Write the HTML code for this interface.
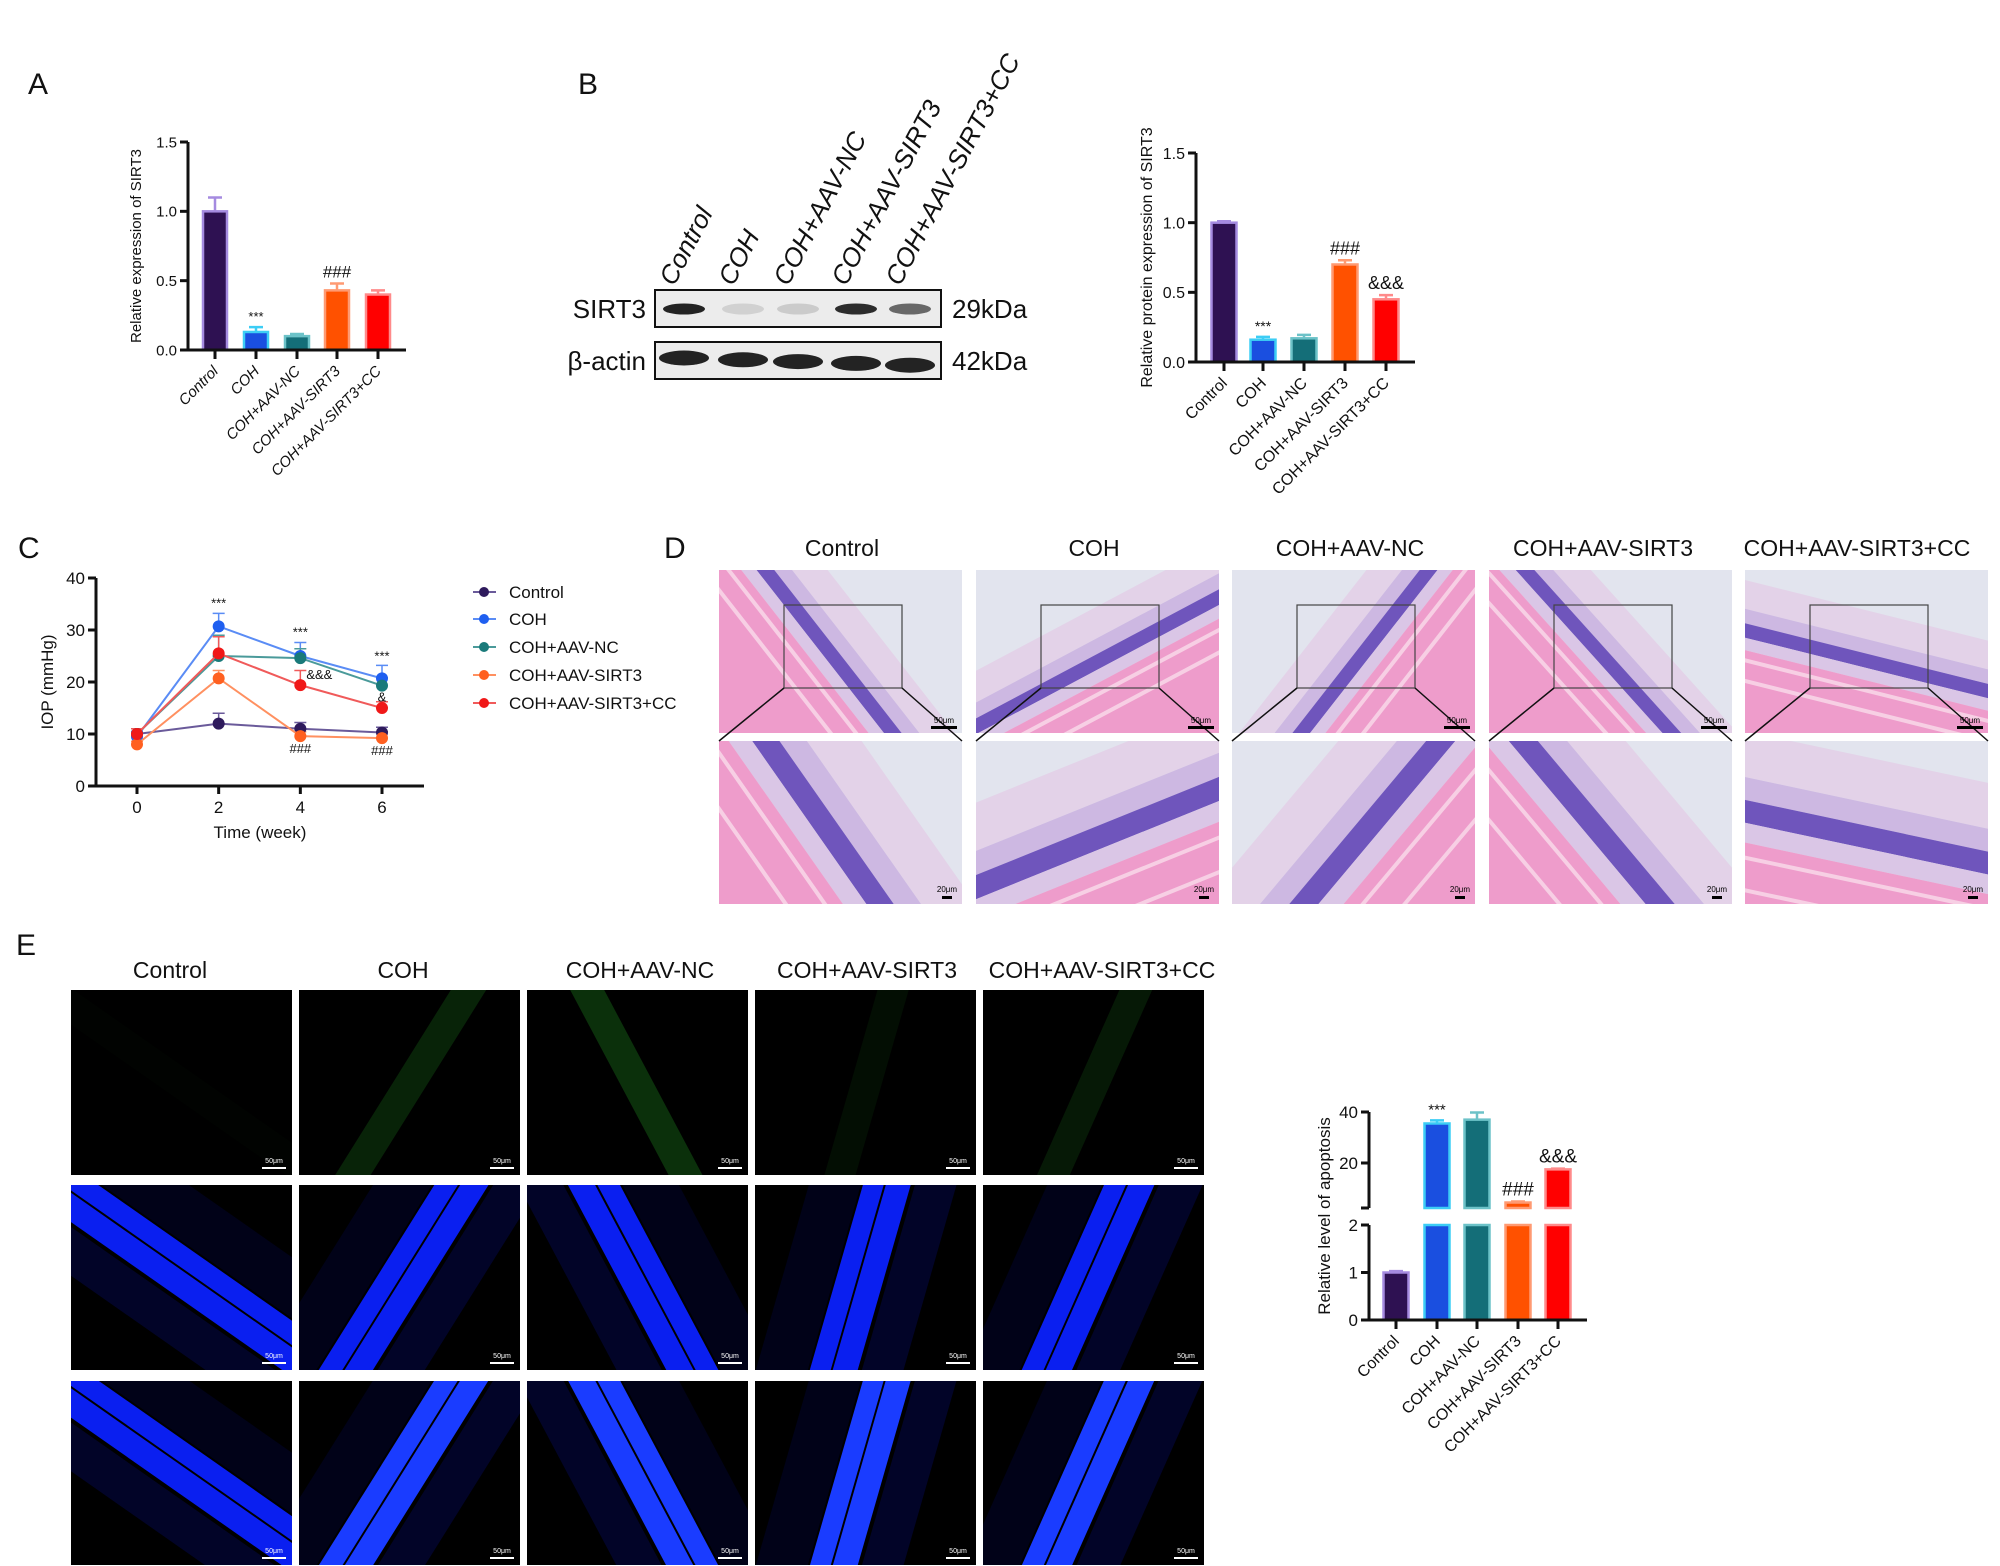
<!DOCTYPE html>
<html><head><meta charset="utf-8"><style>
html,body{margin:0;padding:0;background:#fff;overflow:hidden;width:2000px;height:1566px;}
svg{display:block;font-family:"Liberation Sans",Arial,sans-serif;}
</style></head><body>
<svg id="fig" width="2000" height="1566" viewBox="0 0 2000 1566" xmlns="http://www.w3.org/2000/svg">
<g id="labels" font-size="30" fill="#111">
 <text x="28" y="94">A</text>
 <text x="578" y="94">B</text>
 <text x="18" y="558">C</text>
 <text x="664" y="558">D</text>
 <text x="16" y="955">E</text>
</g>
<g id="blot"></g>
<g id="chartA"></g>
<g id="chartB"></g>
<g id="chartC"></g>
<g id="panelD"></g>
<g id="panelE"></g>
<g id="chartE"></g>
</svg>
<script>
const groups = ["Control","COH","COH+AAV-NC","COH+AAV-SIRT3","COH+AAV-SIRT3+CC"];
const aValues = [1.0, 0.13, 0.10, 0.43, 0.40];
const aErrors = [0.10, 0.035, 0.015, 0.05, 0.03];
const aMarks = ["", "***", "", "###", ""];
const aTicks = [0, 0.5, 1.0, 1.5];
const aTickLabels = ["0.0","0.5","1.0","1.5"];
const bValues = [1.0, 0.16, 0.17, 0.70, 0.45];
const bErrors = [0.01, 0.02, 0.025, 0.03, 0.03];
const bMarks = ["", "***", "", "###", "&&&"];
const weeks = [0, 2, 4, 6];
const cTicks = [0, 10, 20, 30, 40];
const ivControl = [10.0, 12.0, 11.0, 10.3];
const ivCOH = [9.5, 30.7, 25.0, 20.7];
const ivNC = [10.0, 25.0, 24.6, 19.3];
const ivSIRT3 = [8.0, 20.7, 9.6, 9.2];
const ivCC = [10.0, 25.5, 19.4, 15.0];
const ivErrControl = [1.0, 2.0, 1.2, 1.0];
const ivErrCOH = [1.0, 2.5, 2.6, 2.5];
const ivErrNC = [1.0, 4.0, 1.8, 1.5];
const ivErrSIRT3 = [0.6, 1.5, 0.8, 1.2];
const ivErrCC = [1.0, 3.2, 2.8, 1.2];
const eValues = [1.0, 35.5, 37.0, 4.5, 17.5];
const eErrors = [0.03, 1.2, 2.8, 0.4, 0.3];
const eMarks = ["", "***", "", "###", "&&&"];
const eTicksLow = [0, 1, 2];
const eTicksHigh = [20, 40];

const NS="http://www.w3.org/2000/svg";
function mk(parent, tag, attrs, txt){const e=document.createElementNS(NS,tag);for(const k in attrs)e.setAttribute(k,attrs[k]);if(txt!==undefined)e.textContent=txt;parent.appendChild(e);return e;}
const fills=["#2e1152","#1a4fe0","#146e78","#ff5100","#ff0000"];
const strokes=["#a58be0","#3ccdf5","#6cc2c8","#ff9a72","#ff8a8a"];

// clip polygon to axis-aligned rect (Sutherland-Hodgman)
function clipPoly(pts,x0,y0,x1,y1){
  const edges=[[p=>p[0]>=x0,(a,b)=>{const t=(x0-a[0])/(b[0]-a[0]);return [x0,a[1]+t*(b[1]-a[1])];}],
    [p=>p[0]<=x1,(a,b)=>{const t=(x1-a[0])/(b[0]-a[0]);return [x1,a[1]+t*(b[1]-a[1])];}],
    [p=>p[1]>=y0,(a,b)=>{const t=(y0-a[1])/(b[1]-a[1]);return [a[0]+t*(b[0]-a[0]),y0];}],
    [p=>p[1]<=y1,(a,b)=>{const t=(y1-a[1])/(b[1]-a[1]);return [a[0]+t*(b[0]-a[0]),y1];}]];
  let out=pts;
  for(const [inside,inter] of edges){
    const inp=out;out=[];if(!inp.length)break;
    for(let i=0;i<inp.length;i++){const c=inp[i],p=inp[(i+inp.length-1)%inp.length];
      if(inside(c)){if(!inside(p))out.push(inter(p,c));out.push(c);}else if(inside(p))out.push(inter(p,c));}
  }
  return out;
}
// strip in rotated frame: local y from a to b, long along local x
function strip(parent,x,y,w,h,ang,off,a,b,fill,op){
  const cx=x+w/2,cy=y+h/2,r=ang*Math.PI/180,c=Math.cos(r),s=Math.sin(r),L=400;
  const loc=[[-L,a],[L,a],[L,b],[-L,b]];
  const pts=loc.map(p=>{const lx=p[0]+off,ly=p[1];return [cx+lx*c-ly*s,cy+lx*s+ly*c];});
  const cl=clipPoly(pts,x,y,x+w,y+h);
  if(cl.length<3)return;
  const attrs={points:cl.map(p=>p[0].toFixed(1)+','+p[1].toFixed(1)).join(' '),fill:fill};
  if(op!==undefined)attrs['fill-opacity']=op;
  mk(parent,'polygon',attrs);
}

function barChart(g, o, values, errors, marks){
  const y=v=>o.yBot-(v-o.min)/(o.max-o.min)*(o.yBot-o.yTop);
  for(let i=0;i<values.length;i++){
    const cx=o.centers[i], yv=y(values[i]);
    const bar=mk(g,'rect',{x:cx-o.bw/2,y:yv,width:o.bw,height:o.yBot-yv,fill:fills[i],stroke:strokes[i],'stroke-width':2.5});
    
    
    const ye=y(values[i]+errors[i]);
    const eb=mk(g,'path',{d:`M${cx} ${yv}V${ye}M${cx-7} ${ye}H${cx+7}`,stroke:strokes[i],'stroke-width':2.5,fill:'none'});
    
    
    if(marks[i]){const t=mk(g,'text',{x:cx,y:ye-6,'text-anchor':'middle','font-size':marks[i]==='***'?o.fs-2:o.fs+2,fill:'#111'},marks[i]);
      
      }
  }
  mk(g,'path',{d:`M${o.x0} ${o.yTop}V${o.yBot}H${o.x1}`,stroke:'#111','stroke-width':3,fill:'none'});
  o.ticks.forEach((t,k)=>{const yy=y(t);mk(g,'path',{d:`M${o.x0-8} ${yy}H${o.x0}`,stroke:'#111','stroke-width':3});
    const tl=mk(g,'text',{x:o.x0-11,y:yy+o.fs*0.36,'text-anchor':'end','font-size':o.fs,fill:'#111'},o.tickLabels[k]);
    
    });
  o.centers.forEach((cx,i)=>{mk(g,'path',{d:`M${cx} ${o.yBot}V${o.yBot+9}`,stroke:'#111','stroke-width':3});
    const tl=mk(g,'text',{x:cx+4,y:o.yBot+22,'text-anchor':'end','font-size':o.fs,fill:'#111','font-style':o.italic?'italic':'normal',transform:`rotate(-45 ${cx+4} ${o.yBot+22})`},groups[i]);
    
    });
  const yl=mk(g,'text',{x:o.ylx,y:(o.yTop+o.yBot)/2,'text-anchor':'middle','font-size':o.fs,fill:'#111',transform:`rotate(-90 ${o.ylx} ${(o.yTop+o.yBot)/2})`},o.ylabel);
  
  
}
barChart(document.getElementById('chartA'),{x0:188,x1:406,yTop:142,yBot:350,min:0,max:1.5,ticks:aTicks,tickLabels:aTickLabels,centers:[215,256,297,337,378],bw:24,fs:15,italic:true,ylx:141,ylabel:'Relative expression of SIRT3'},aValues,aErrors,aMarks);
barChart(document.getElementById('chartB'),{x0:1196,x1:1415,yTop:153,yBot:362,min:0,max:1.5,ticks:aTicks,tickLabels:aTickLabels,centers:[1224,1263,1304,1345,1386],bw:25,fs:16,italic:false,ylx:1152,ylabel:'Relative protein expression of SIRT3'},bValues,bErrors,bMarks);

(function(){
  const g=document.getElementById('blot');
  const lanes=[684,743,798,856,910];
  const sirt=[0.92,0.12,0.15,0.88,0.6];
  mk(g,'rect',{x:655,y:290,width:286,height:37,fill:'#ececec',stroke:'#111','stroke-width':2});
  mk(g,'rect',{x:655,y:342,width:286,height:37,fill:'#ececec',stroke:'#111','stroke-width':2});
  lanes.forEach((x,i)=>{
    mk(g,'ellipse',{cx:x,cy:309,rx:21,ry:5.5,fill:'#111','fill-opacity':sirt[i]});
    mk(g,'ellipse',{cx:x,cy:358+i*1.8,rx:25,ry:7.5,fill:'#111','fill-opacity':0.92});
    const t=mk(g,'text',{x:x-10,y:287,'font-size':26,'font-style':'italic',fill:'#111',transform:`rotate(-62 ${x-10} 287)`},groups[i]);
    
    
  });
  mk(g,'text',{x:646,y:318,'font-size':26,'text-anchor':'end',fill:'#111'},'SIRT3');
  mk(g,'text',{x:646,y:370,'font-size':26,'text-anchor':'end',fill:'#111'},'β-actin');
  mk(g,'text',{x:952,y:318,'font-size':26,fill:'#111'},'29kDa');
  mk(g,'text',{x:952,y:370,'font-size':26,fill:'#111'},'42kDa');
})();

(function(){
  const g=document.getElementById('chartC');
  const x=w=>137+w/6*(382-137), y=v=>786-v/40*(786-578);
  const series=[ivControl,ivCOH,ivNC,ivSIRT3,ivCC], errs=[ivErrControl,ivErrCOH,ivErrNC,ivErrSIRT3,ivErrCC];
  const cols=["#2e1a5c","#1f5ff0","#1a7a7a","#ff6020","#f01818"];
  const lcols=["#6a5a9a","#5a8cf5","#4a9a9a","#ff9060","#f05a5a"];
  series.forEach((s,k)=>{
    s.forEach((v,i)=>{const e=mk(g,'path',{d:`M${x(weeks[i])} ${y(v)}V${y(v+errs[k][i])}M${x(weeks[i])-6} ${y(v+errs[k][i])}H${x(weeks[i])+6}`,stroke:lcols[k],'stroke-width':1.5,fill:'none'});
      
      });
  });
  series.forEach((s,k)=>{
    const ln=mk(g,'polyline',{points:s.map((v,i)=>x(weeks[i])+','+y(v)).join(' '),fill:'none',stroke:lcols[k],'stroke-width':2});
    
    
    s.forEach((v,i)=>{const p=mk(g,'circle',{cx:x(weeks[i]),cy:y(v),r:6,fill:cols[k]});
      
      });
  });
  mk(g,'path',{d:`M96 578V786H424`,stroke:'#111','stroke-width':3,fill:'none'});
  cTicks.forEach(t=>{mk(g,'path',{d:`M88 ${y(t)}H96`,stroke:'#111','stroke-width':3});
    const tl=mk(g,'text',{x:85,y:y(t)+6,'text-anchor':'end','font-size':17,fill:'#111'},t);
    
    });
  weeks.forEach(w=>{mk(g,'path',{d:`M${x(w)} 786V794`,stroke:'#111','stroke-width':3});
    const tl=mk(g,'text',{x:x(w),y:813,'text-anchor':'middle','font-size':17,fill:'#111'},w);
    
    });
  mk(g,'text',{x:260,y:838,'text-anchor':'middle','font-size':17,fill:'#111'},'Time (week)');
  mk(g,'text',{x:53,y:682,'text-anchor':'middle','font-size':17,fill:'#111',transform:'rotate(-90 53 682)'},'IOP (mmHg)');
  const ann=[[2,ivCOH[1]+ivErrCOH[1],'***',0,-6],[4,ivCOH[2]+ivErrCOH[2],'***',0,-6],[6,ivCOH[3]+ivErrCOH[3],'***',0,-5],
    [4,ivCC[2],'&&&',6,-6],[6,ivNC[3],'&',0,16],[4,ivSIRT3[2],'###',0,17],[6,ivSIRT3[3],'###',0,17]];
  ann.forEach(a=>{const t=mk(g,'text',{x:x(a[0])+a[3],y:y(a[1])+a[4],'text-anchor':a[3]?'start':'middle','font-size':13,fill:'#111'},a[2]);
    
    });
  const ly=[592,619,647,675,703];
  groups.forEach((gname,k)=>{
    const lg=mk(g,'g',{});
    
    
    mk(lg,'path',{d:`M473 ${ly[k]}H496`,stroke:lcols[k],'stroke-width':2});
    mk(lg,'circle',{cx:484,cy:ly[k],r:5,fill:cols[k]});
    mk(lg,'text',{x:509,y:ly[k]+6,'font-size':17,fill:'#111'},gname);
  });
})();

(function(){
  const g=document.getElementById('panelD');
  const xs=[719,976,1232,1489,1745];
  const tx=[842,1094,1350,1603,1857];
  const angTop=[52,-28,-52,48,14], angBot=[55,-22,-50,50,12];
  const offTop=[10,5,0,-5,-15], offBot=[0,20,5,-20,-20];
  function panel(x,y,w,h,ang,off,zoom){
    const pg=mk(g,'g',{});
    
    
    mk(pg,'rect',{x:x,y:y,width:w,height:h,fill:'#e2e4ee'});
    const s=zoom?1.6:1;
    strip(pg,x,y,w,h,ang,off,-40*s,-12*s,'#e3d2e8');
    strip(pg,x,y,w,h,ang,off,-12*s,2*s,'#cdb8e2');
    strip(pg,x,y,w,h,ang,off,2*s,16*s,'#6f55bc');
    strip(pg,x,y,w,h,ang,off,16*s,28*s,'#dac6e6');
    strip(pg,x,y,w,h,ang,off,28*s,300,'#ee9ccb');
    strip(pg,x,y,w,h,ang,off,36*s,36*s+4,'#f7cfe4');
    strip(pg,x,y,w,h,ang,off,56*s,56*s+4,'#f7cfe4');
  }
  for(let i=0;i<5;i++){
    const t=mk(g,'text',{x:tx[i],y:556,'text-anchor':'middle','font-size':23,fill:'#111'},groups[i]);
    
    
    panel(xs[i],570,243,163,angTop[i],offTop[i],false);
    panel(xs[i],741,243,163,angBot[i],offBot[i],true);
    mk(g,'rect',{x:xs[i]+65,y:605,width:118,height:83,fill:'none',stroke:'#444','stroke-width':1.2});
    mk(g,'path',{d:`M${xs[i]+65} 688L${xs[i]} 741M${xs[i]+183} 688L${xs[i]+243} 741`,stroke:'#111','stroke-width':1.5});
    mk(g,'rect',{x:xs[i]+212,y:726,width:26,height:3,fill:'#000'});
    mk(g,'text',{x:xs[i]+225,y:723,'text-anchor':'middle','font-size':8,fill:'#000'},'50μm');
    mk(g,'rect',{x:xs[i]+223,y:896,width:10,height:3,fill:'#000'});
    mk(g,'text',{x:xs[i]+228,y:892,'text-anchor':'middle','font-size':8,fill:'#000'},'20μm');
  }
})();

(function(){
  const g=document.getElementById('panelE');
  const xs=[71,299,527,755,983], ys=[990,1185,1381];
  const tx=[170,403,640,867,1102];
  const ang=[35,-58,62,-74,-66], off=[30,20,-10,20,0];
  for(let i=0;i<5;i++){
    const t=mk(g,'text',{x:tx[i],y:978,'text-anchor':'middle','font-size':23,fill:'#111'},groups[i]);
    
    
    for(let r=0;r<3;r++){
      const x=xs[i],y=ys[r],w=221,h=r===2?184:185;
      const pg=mk(g,'g',{});
      
      
      mk(pg,'rect',{x:x,y:y,width:w,height:h,fill:'#000'});
      if(r===0){
        const op=[0.02,0.25,0.35,0.1,0.18][i];
        strip(pg,x,y,w,h,ang[i],off[i],-14,16,'#1f8a1f',op);
      } else {
        const c= r===2 && i>0 ? '#1a3cff' : '#0a1ff0';
        strip(pg,x,y,w,h,ang[i],off[i],-80,-30,'#0610a0',0.15);
        strip(pg,x,y,w,h,ang[i],off[i],-28,-8,c);
        strip(pg,x,y,w,h,ang[i],off[i],-6,18,c);
        strip(pg,x,y,w,h,ang[i],off[i],22,62,'#0610a0',0.25);
      }
      mk(g,'rect',{x:x+w-30,y:y+h-8,width:24,height:2,fill:'#fff'});
      mk(g,'text',{x:x+w-18,y:y+h-12,'text-anchor':'middle','font-size':7,fill:'#fff'},'50μm');
    }
  }
})();

(function(){
  const g=document.getElementById('chartE');
  const x0=1369,x1=1587,centers=[1396,1437,1477,1518,1558],bw=25;
  const yLow=v=>1320-v/2*(1320-1225);
  const hiBot=1208, yHigh=v=>1163-(v-20)/20*(1163-1112);
  const hiMin=20-(hiBot-1163)/(1163-1112)*20;
  eValues.forEach((v,i)=>{
    const cx=centers[i];
    if(v<=2){
      const r=mk(g,'rect',{x:cx-bw/2,y:yLow(v),width:bw,height:1320-yLow(v),fill:fills[i],stroke:strokes[i],'stroke-width':2.5});
      
      
    } else {
      const r=mk(g,'rect',{x:cx-bw/2,y:1225,width:bw,height:95,fill:fills[i],stroke:strokes[i],'stroke-width':2.5});
      
      
      const yt=yHigh(Math.max(v,hiMin));
      const r2=mk(g,'rect',{x:cx-bw/2,y:yt,width:bw,height:hiBot-yt,fill:fills[i],stroke:strokes[i],'stroke-width':2.5});
      
      
    }
    const yv=v<=2?yLow(v):yHigh(v), ye=v<=2?yLow(v+eErrors[i]):yHigh(v+eErrors[i]);
    mk(g,'path',{d:`M${cx} ${yv}V${ye}M${cx-7} ${ye}H${cx+7}`,stroke:strokes[i],'stroke-width':2.5,fill:'none'});
    if(eMarks[i]){const t=mk(g,'text',{x:cx,y:ye-6,'text-anchor':'middle','font-size':eMarks[i]==='***'?15:19,fill:'#111'},eMarks[i]);
      
      }
  });
  mk(g,'path',{d:`M${x0} 1112V${hiBot}M${x0-8} ${hiBot}H${x0}M${x0-8} 1225H${x0}M${x0} 1225V1320H${x1}`,stroke:'#111','stroke-width':3,fill:'none'});
  eTicksHigh.forEach(t=>{mk(g,'path',{d:`M${x0-8} ${yHigh(t)}H${x0}`,stroke:'#111','stroke-width':3});
    const tl=mk(g,'text',{x:x0-11,y:yHigh(t)+6,'text-anchor':'end','font-size':17,fill:'#111'},t);
    
    });
  eTicksLow.forEach(t=>{mk(g,'path',{d:`M${x0-8} ${yLow(t)}H${x0}`,stroke:'#111','stroke-width':3});
    const tl=mk(g,'text',{x:x0-11,y:yLow(t)+6,'text-anchor':'end','font-size':17,fill:'#111'},t);
    
    });
  centers.forEach((cx,i)=>{mk(g,'path',{d:`M${cx} 1320V1329`,stroke:'#111','stroke-width':3});
    const tl=mk(g,'text',{x:cx+4,y:1342,'text-anchor':'end','font-size':16,fill:'#111',transform:`rotate(-45 ${cx+4} 1342)`},groups[i]);
    
    });
  mk(g,'text',{x:1330,y:1216,'text-anchor':'middle','font-size':17,fill:'#111',transform:'rotate(-90 1330 1216)'},'Relative level of apoptosis');
})();
</script>
</body></html>
